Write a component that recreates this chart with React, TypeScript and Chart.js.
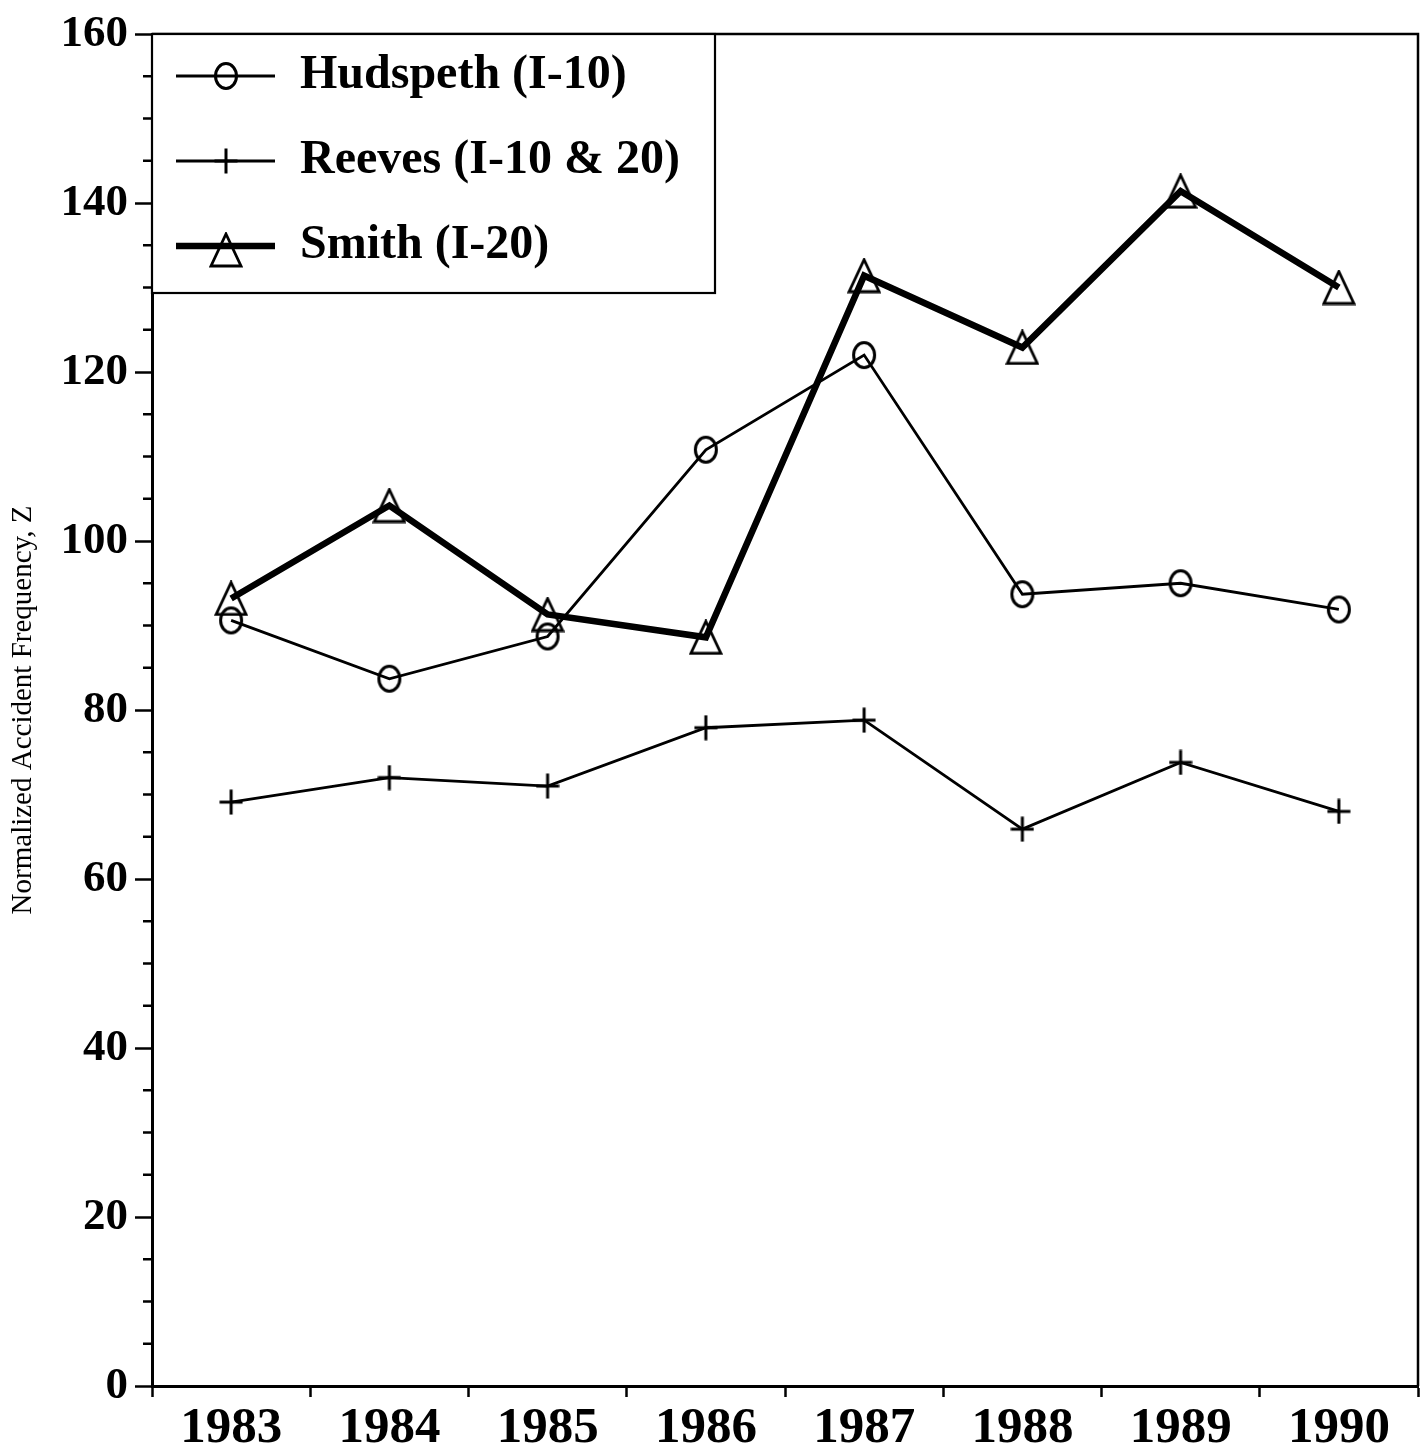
import React, { useEffect, useRef } from 'react';
import { Chart, registerables } from 'chart.js';
Chart.register(...registerables);

const years = ['1983', '1984', '1985', '1986', '1987', '1988', '1989', '1990'];
const hudspeth = [90.6, 83.7, 88.7, 110.8, 122.0, 93.7, 95.0, 91.9];
const reeves = [69.1, 72.0, 71.0, 77.9, 78.8, 65.9, 73.8, 68.0];
const smith = [93.2, 104.2, 91.3, 88.6, 131.4, 122.9, 141.4, 130.0];
const seriesNames = ['Hudspeth (I-10)', 'Reeves (I-10 & 20)', 'Smith (I-20)'];
const yMin = 0;
const yMax = 160;
const yMajorStep = 20;
const yMinorStep = 5;
const yTitle = 'Normalized Accident Frequency, Z';

const SERIF = '"Liberation Serif", "Times New Roman", Times, serif';

function makeEllipse(): HTMLCanvasElement {
  const c = document.createElement('canvas');
  c.width = 26;
  c.height = 30;
  const ctx = c.getContext('2d')!;
  ctx.strokeStyle = '#000';
  ctx.lineWidth = 3;
  ctx.beginPath();
  ctx.ellipse(13, 15, 10.5, 12.5, 0, 0, Math.PI * 2);
  ctx.stroke();
  return c;
}

function makeTriangle(): HTMLCanvasElement {
  const c = document.createElement('canvas');
  c.width = 34;
  c.height = 36;
  const ctx = c.getContext('2d')!;
  ctx.strokeStyle = '#000';
  ctx.lineWidth = 2.8;
  ctx.lineJoin = 'miter';
  ctx.beginPath();
  ctx.moveTo(17, 2);
  ctx.lineTo(32, 34);
  ctx.lineTo(2, 34);
  ctx.closePath();
  ctx.stroke();
  return c;
}

function makeCross(): HTMLCanvasElement {
  const c = document.createElement('canvas');
  c.width = 24;
  c.height = 26;
  const ctx = c.getContext('2d')!;
  ctx.strokeStyle = '#000';
  ctx.lineWidth = 3;
  ctx.beginPath();
  ctx.moveTo(0.5, 13);
  ctx.lineTo(23.5, 13);
  ctx.moveTo(12, 0.5);
  ctx.lineTo(12, 25.5);
  ctx.stroke();
  return c;
}

export default function App() {
  const ref = useRef<HTMLCanvasElement | null>(null);

  useEffect(() => {
    document.body.style.margin = '0';
    const canvas = ref.current;
    if (!canvas) return;
    const ellipse = makeEllipse();
    const tri = makeTriangle();
    const cross = makeCross();

    const framePlugin = {
      id: 'frameAndLegend',
      afterDraw(chart: any) {
        const { ctx, chartArea } = chart;
        const ys = chart.scales.y;
        ctx.save();
        ctx.strokeStyle = '#000';
        ctx.lineWidth = 2.5;
        ctx.beginPath();
        ctx.moveTo(chartArea.left, chartArea.top);
        ctx.lineTo(chartArea.right, chartArea.top);
        ctx.lineTo(chartArea.right, chartArea.bottom);
        ctx.stroke();
        ctx.beginPath();
        for (let v = yMin; v <= yMax; v += yMinorStep) {
          if (v % yMajorStep === 0) continue;
          const py = ys.getPixelForValue(v);
          ctx.moveTo(chartArea.left - 9, py);
          ctx.lineTo(chartArea.left, py);
        }
        ctx.stroke();

        const lx = chartArea.left;
        const ly = chartArea.top;
        const lw = 563;
        const lh = 259;
        ctx.fillStyle = '#fff';
        ctx.fillRect(lx, ly, lw, lh);
        ctx.lineWidth = 2.2;
        ctx.strokeRect(lx, ly, lw, lh);
        const rows = [76, 161, 246];
        chart.data.datasets.forEach((ds: any, i: number) => {
          const ry = rows[i];
          ctx.strokeStyle = '#000';
          ctx.lineWidth = ds.borderWidth;
          ctx.beginPath();
          ctx.moveTo(lx + 24, ry);
          ctx.lineTo(lx + 123, ry);
          ctx.stroke();
          const img = ds.pointStyle as HTMLCanvasElement;
          const mx = lx + 74;
          const my = i === 2 ? ry + 4 : ry;
          ctx.drawImage(img, mx - img.width / 2, my - img.height / 2);
          ctx.fillStyle = '#000';
          ctx.font = `bold 48px ${SERIF}`;
          ctx.textBaseline = 'middle';
          ctx.textAlign = 'left';
          ctx.fillText(ds.label, lx + 148, ry);
        });
        ctx.restore();
      },
    };

    const pointCommon = {
      pointRadius: 1,
      pointHoverRadius: 0,
      pointBorderWidth: 0,
      pointHitRadius: 0,
      fill: false,
      tension: 0,
      borderColor: '#000',
    };

    const chart = new Chart(canvas, {
      type: 'line',
      data: {
        labels: years,
        datasets: [
          {
            ...pointCommon,
            label: seriesNames[0],
            data: hudspeth,
            borderWidth: 2.8,
            pointStyle: ellipse as any,
          },
          {
            ...pointCommon,
            label: seriesNames[1],
            data: reeves,
            borderWidth: 2.8,
            pointStyle: cross as any,
          },
          {
            ...pointCommon,
            label: seriesNames[2],
            data: smith,
            borderWidth: 6.5,
            pointStyle: tri as any,
          },
        ],
      },
      options: {
        responsive: false,
        animation: false,
        events: [],
        layout: { padding: { top: 33, right: 7, left: 0, bottom: 0 } },
        plugins: {
          legend: { display: false },
          tooltip: { enabled: false },
        },
        scales: {
          x: {
            type: 'category',
            offset: true,
            grid: {
              offset: true,
              drawOnChartArea: false,
              drawTicks: true,
              tickLength: 11,
              tickWidth: 2.5,
              tickColor: '#000',
            },
            border: { display: true, color: '#000', width: 3 },
            ticks: {
              color: '#000',
              font: { family: SERIF, size: 51, weight: 'bold', lineHeight: 1 },
              padding: 6,
              maxRotation: 0,
              autoSkip: false,
            },
            afterFit(scale: any) {
              scale.height = 66;
              scale.paddingLeft = 0;
              scale.paddingRight = 0;
            },
          },
          y: {
            min: yMin,
            max: yMax,
            grid: {
              drawOnChartArea: false,
              drawTicks: true,
              tickLength: 17,
              tickWidth: 2.5,
              tickColor: '#000',
            },
            border: { display: true, color: '#000', width: 3 },
            ticks: {
              stepSize: yMajorStep,
              color: '#000',
              font: { family: SERIF, size: 45, weight: 'bold' },
              padding: 7,
            },
            title: {
              display: true,
              text: yTitle,
              color: '#000',
              font: { family: SERIF, size: 29, weight: 'normal', lineHeight: 1.2 },
              padding: { top: 6, bottom: 0 },
            },
            afterFit(scale: any) {
              scale.width = 152;
            },
          },
        },
      },
      plugins: [framePlugin],
    } as any);

    return () => {
      chart.destroy();
    };
  }, []);

  return (
    <div style={{ width: 1425, height: 1452, background: '#fff' }}>
      <canvas ref={ref} width={1425} height={1452} style={{ display: 'block' }} />
    </div>
  );
}
